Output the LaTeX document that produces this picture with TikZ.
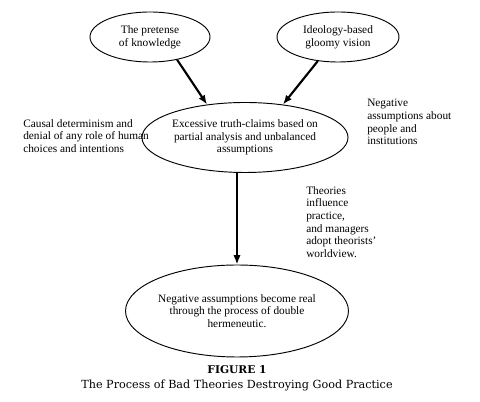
\documentclass[tikz,border=0pt]{standalone}
\usepackage{fontspec}
\setmainfont{Liberation Serif}
\newfontfamily\capfont{DejaVu Serif}
\usetikzlibrary{arrows.meta,positioning,shapes.geometric,calc}

\begin{document}
\begin{tikzpicture}[x=0.75pt,y=-0.75pt,>={Latex[length=7pt,width=5.5pt]}]
\tikzset{
 oval/.style={draw,ellipse,inner sep=0pt,align=center,line width=0.7pt,font=\fontsize{8.5}{9.5}\selectfont},
 note/.style={align=left,inner sep=0pt,font=\fontsize{8.5}{9.5}\selectfont},
 arrow/.style={->,line width=1.6pt}
}
\useasboundingbox (0,0) rectangle (480,402);
\node[oval,minimum width=90pt,minimum height=37.5pt] (know) at (150,37) {The pretense\\of knowledge};
\node[oval,minimum width=91.5pt,minimum height=37.5pt] (ideo) at (338,37) {Ideology-based\\gloomy vision};
\node[oval,minimum width=135pt,minimum height=52.5pt] (claims) at (245,137.5) {Excessive truth-claims based on\\partial analysis and unbalanced\\assumptions};
\node[oval,minimum width=146pt,minimum height=69pt] (real) at (237,311) {Negative assumptions become real\\through the process of double\\hermeneutic.};
% side remarks
\node[note,anchor=north west] (causal) at (23,119) {Causal determinism and\\denial of any role of human\\choices and intentions};
\node[note,anchor=north west] (negative) at (367,99) {Negative\\assumptions about\\people and\\institutions};
\node[note,anchor=north west] (influence) at (306,186) {Theories\\influence\\practice,\\and managers\\adopt theorists'\\worldview.};
% caption
\node[font=\capfont\bfseries\fontsize{8}{9}\selectfont] (fig) at (237,370) {FIGURE 1};
\node[font=\capfont\fontsize{8.4}{9}\selectfont] (title) at (237,385) {The Process of Bad Theories Destroying Good Practice};
\draw[arrow] (know.-40) -- (claims.139);
\draw[arrow] (ideo.-130) -- (claims.41);
\draw[arrow] (real.north |- claims.south) -- (real.north);
\end{tikzpicture}
\end{document}
